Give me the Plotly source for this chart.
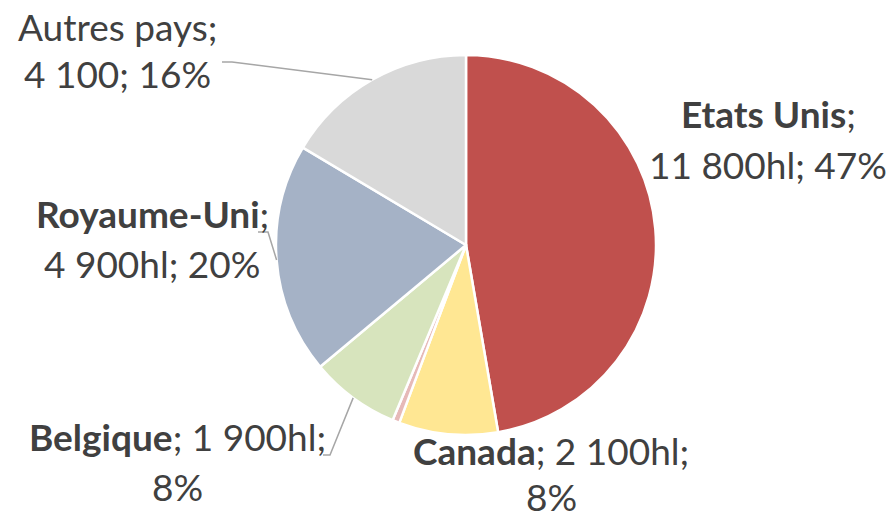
import math
import plotly.graph_objects as go

# Export volumes by destination (hectolitres), clockwise from 12 o'clock
countries = ["Etats Unis", "Canada", "Autre", "Belgique", "Royaume-Uni", "Autres pays"]
volumes = [11800, 2100, 150, 1900, 4900, 4100]
colors = ["#C0504D", "#FFE793", "#E6B9B8", "#D7E4BD", "#A5B2C6", "#D9D9D9"]
label_lines = [
    ["<b>Etats Unis</b>;", "11 800hl; 47%"],
    ["<b>Canada</b>; 2 100hl;", "8%"],
    None,
    ["<b>Belgique</b>; 1 900hl;", "8%"],
    ["<b>Royaume-Uni</b>;", "4 900hl; 20%"],
    ["Autres pays;", "4 100; 16%"],
]

W, H = 896, 521
CX, CY, R = 466, 245, 190
FONT = "Lato"
TXT = "#404040"
FS = 37

# label centre x and per-line centre y (px) for each slice
label_pos = [
    (768, [117, 168]),
    (551, [454, 500]),
    None,
    (177, [440, 490]),
    (152, [217, 267]),
    (117, [30, 78]),
]
leader_elbows = {
    5: [(232, 62), (222, 62)],
    4: [(268, 232), (258, 232)],
    3: [(330, 455), (323, 455)],
}


def px(x):
    return x / W


def py(y):
    return 1 - y / H


fig = go.Figure(
    go.Pie(
        labels=countries,
        values=volumes,
        sort=False,
        direction="clockwise",
        rotation=0,
        marker=dict(colors=colors, line=dict(color="white", width=2.5)),
        textinfo="none",
        hoverinfo="skip",
        showlegend=False,
        domain=dict(x=[px(CX - R), px(CX + R)], y=[py(CY + R), py(CY - R)]),
    )
)

total = sum(volumes)
cum = 0
mids = []
for v in volumes:
    mids.append((cum + v / 2) / total * 2 * math.pi)
    cum += v

shapes = []
for i, elbows in leader_elbows.items():
    a = mids[i]
    pts = [(CX + R * math.sin(a), CY - R * math.cos(a))] + elbows
    path = "M " + " L ".join(f"{px(x)},{py(y)}" for x, y in pts)
    shapes.append(dict(type="path", path=path, xref="paper", yref="paper",
                       line=dict(color="#A6A6A6", width=1.5)))

annotations = []
for lines, pos in zip(label_lines, label_pos):
    if lines is None:
        continue
    xc, ys = pos
    for txt, yc in zip(lines, ys):
        annotations.append(dict(
            text=txt, x=px(xc), y=py(yc - 4), xref="paper", yref="paper",
            xanchor="center", yanchor="middle", showarrow=False, align="center",
            font=dict(family=FONT, size=FS, color=TXT),
        ))

fig.update_layout(
    width=W, height=H,
    margin=dict(l=0, r=0, t=0, b=0),
    paper_bgcolor="white", plot_bgcolor="white",
    shapes=shapes, annotations=annotations,
)

fig.write_html("out.html")
